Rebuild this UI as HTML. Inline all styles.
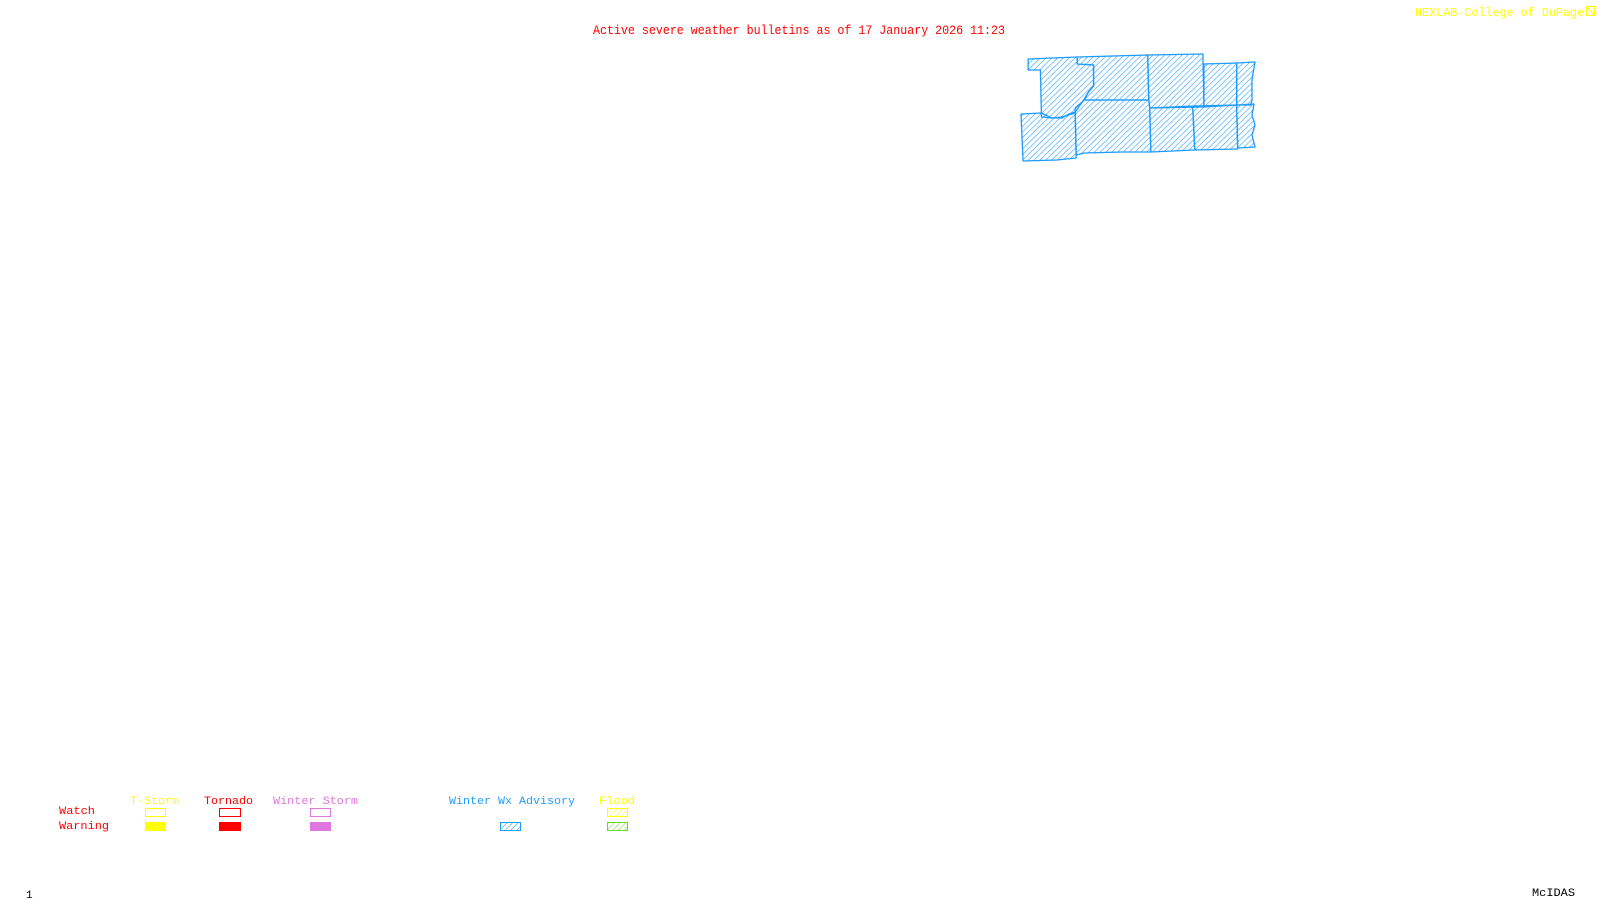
<!DOCTYPE html>
<html><head><meta charset="utf-8"><style>
html,body{margin:0;padding:0;background:#fff;width:1600px;height:900px;overflow:hidden}
svg{display:block}
text{font-family:"Liberation Mono",monospace;}
</style></head><body>
<svg width="1600" height="900" viewBox="0 0 1600 900" xmlns="http://www.w3.org/2000/svg">
<defs>
<pattern id="hb" width="4" height="4" patternUnits="userSpaceOnUse" patternTransform="rotate(45)">
<line x1="0" y1="0" x2="0" y2="4" stroke="#1e9bff" stroke-width="1.1"/></pattern>
<pattern id="hy" width="4" height="4" patternUnits="userSpaceOnUse" patternTransform="rotate(45)">
<line x1="0" y1="0" x2="0" y2="4" stroke="#ffff00" stroke-width="1"/></pattern>
<pattern id="hg" width="4" height="4" patternUnits="userSpaceOnUse" patternTransform="rotate(45)">
<line x1="0" y1="0" x2="0" y2="4" stroke="#66dd22" stroke-width="1"/></pattern>
</defs>
<text x="593" y="34" font-size="13" fill="#ff0000" textLength="412" lengthAdjust="spacingAndGlyphs">Active severe weather bulletins as of 17 January 2026 11:23</text>
<text x="1415" y="16" font-size="12" fill="#ffff00" textLength="169" lengthAdjust="spacingAndGlyphs">NEXLAB-College of DuPage</text>
<rect x="1586.5" y="6.5" width="8" height="9" fill="none" stroke="#ffff00"/>
<line x1="1587" y1="7" x2="1594" y2="15" stroke="#ffff00"/>
<g transform="translate(1021,0) scale(1.022,1) translate(-1021,0)" fill="url(#hb)" stroke="#1e9bff" stroke-width="1.3" stroke-linejoin="round">
<polygon points="1028,59 1076,57 1076,64 1092,65 1092,86 1087,92 1083,99 1074,112 1068,114 1061,118 1051,118 1041,117 1040,70 1028,70"/>
<polygon points="1076,57 1145,55 1146,100 1083,100 1087,92 1092,86 1092,65 1076,64"/>
<polygon points="1145,55 1199,54 1200,107 1147,108 1146,100"/>
<polygon points="1200,64 1232,63 1232,105 1200,107"/>
<polygon points="1232,63 1250,62 1247,80 1247,100 1246,105 1232,105"/>
<polygon points="1021,114 1041,113 1051,118 1061,117 1074,113 1075,158 1056,160 1023,161"/>
<polygon points="1074,113 1074,108 1083,100 1146,100 1147,108 1148,152 1120,152 1083,153 1075,155"/>
<polygon points="1147,108 1189,106 1191,150 1148,152"/>
<polygon points="1189,106 1232,105 1233,149 1191,150"/>
<polygon points="1232,105 1249,104 1247,115 1250,125 1247,135 1250,147 1233,148"/>
</g>
<g font-size="11">
<text x="59" y="814" fill="#ff0000" textLength="36" lengthAdjust="spacingAndGlyphs">Watch</text>
<text x="59" y="829" fill="#ff0000" textLength="50" lengthAdjust="spacingAndGlyphs">Warning</text>
<text x="130" y="804" fill="#ffff00" textLength="49" lengthAdjust="spacingAndGlyphs">T-Storm</text>
<text x="204" y="804" fill="#ff0000" textLength="49" lengthAdjust="spacingAndGlyphs">Tornado</text>
<text x="273" y="804" fill="#dd77dd" textLength="85" lengthAdjust="spacingAndGlyphs">Winter Storm</text>
<text x="449" y="804" fill="#1e9bff" textLength="126" lengthAdjust="spacingAndGlyphs">Winter Wx Advisory</text>
<text x="599" y="804" fill="#ffff00" textLength="36" lengthAdjust="spacingAndGlyphs">Flood</text>
</g>
<rect x="145.5" y="808.5" width="20" height="8" fill="none" stroke="#ffff00"/>
<rect x="219.5" y="808.5" width="21" height="8" fill="none" stroke="#ff0000"/>
<rect x="310.5" y="808.5" width="20" height="8" fill="none" stroke="#dd77dd"/>
<rect x="607.5" y="808.5" width="20" height="8" fill="url(#hy)" stroke="#ffff00"/>
<rect x="145" y="822" width="21" height="9" fill="#ffff00"/>
<rect x="219" y="822" width="22" height="9" fill="#ff0000"/>
<rect x="310" y="822" width="21" height="9" fill="#dd77dd"/>
<rect x="500.5" y="822.5" width="20" height="8" fill="url(#hb)" stroke="#1e9bff"/>
<rect x="607.5" y="822.5" width="20" height="8" fill="url(#hg)" stroke="#66dd22"/>
<text x="26" y="898" font-size="11" fill="#000">1</text>
<text x="1532" y="896" font-size="11" fill="#000" textLength="43" lengthAdjust="spacingAndGlyphs">McIDAS</text>
</svg>
</body></html>
